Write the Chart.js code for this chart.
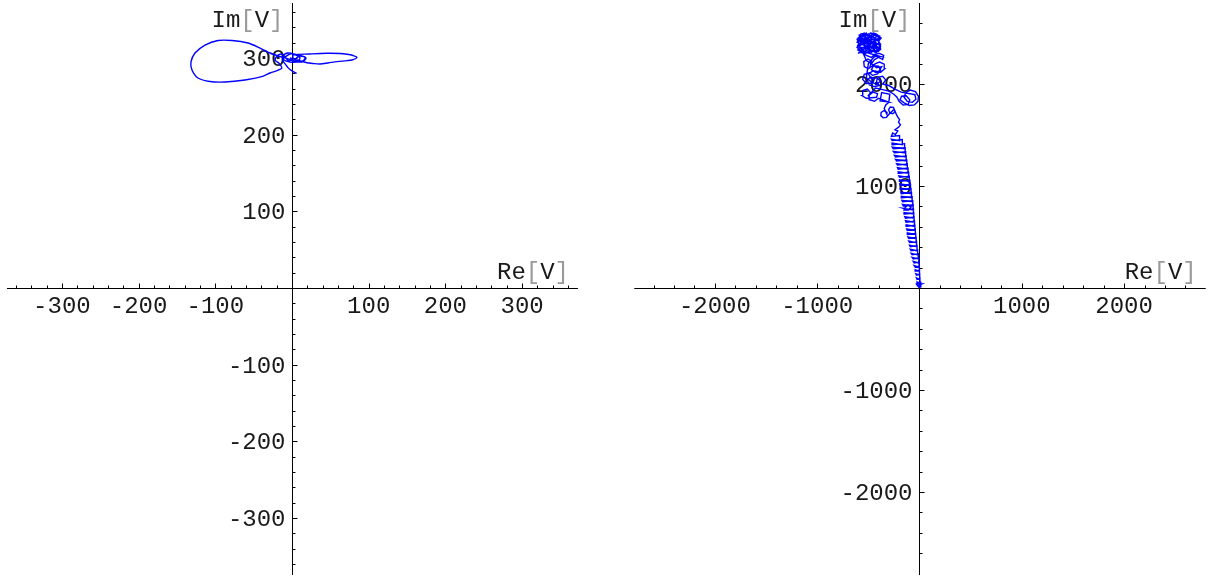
<!DOCTYPE html>
<html>
<head>
<meta charset="utf-8">
<script src="https://cdn.jsdelivr.net/npm/chart.js@4.4.1/dist/chart.umd.min.js"></script>
<style>
  html, body { margin: 0; padding: 0; background: #fff; }
  #wrap { position: relative; width: 1214px; height: 578px; overflow: hidden; }
  .pane { position: absolute; top: 0; width: 607px; height: 578px; }
  canvas { display: block; }
</style>
</head>
<body>
<div id="wrap">
  <div class="pane" style="left:0"><canvas id="left" width="607" height="578"></canvas></div>
  <div class="pane" style="left:607px"><canvas id="right" width="607" height="578"></canvas></div>
</div>
<script>
// Voltage phasor trajectory, small range (Re[V], Im[V])
const leftCurve = [
  [6.1, 279.9], [0, 283], [-5, 287], [-8, 291], [-11.7, 296], [-12, 301],
  [-9.1, 301.2], [-2.6, 305.1], [5.2, 303.8], [10.4, 299.9], [6.5, 294.7], [-2.6, 294.7],
  [-10.4, 297.3], [-11.7, 302.5], [-5.2, 306.4], [7.8, 303.8], [16.9, 301.2], [14.3, 296.0],
  [3.9, 297.3], [10.4, 302.5], [18.3, 299.9], [13.0, 294.7], [2.6, 296.0], [-6, 299],
  [-15.6, 301.8], [-28.7, 306.4], [-41.7, 312.9], [-57.4, 319.4], [-78.2, 322.7], [-96.5, 322.7],
  [-113.4, 316.8], [-126.5, 306.4], [-131.7, 294.7], [-130.4, 284.2], [-122.6, 273.8], [-106.9, 269.2],
  [-87.4, 268.6], [-61.3, 271.2], [-39.5, 275.5], [-28.7, 280.3], [-13.4, 286.4], [-17, 293],
  [-22, 297], [-19, 303], [-13, 305], [-8, 300], [-4, 296], [1.3, 299],
  [1.3, 303.8], [23.5, 305.1], [45.6, 306.0], [62.6, 305.7], [71.7, 304.7], [79.5, 303.1],
  [84.7, 300.8], [78.2, 297.3], [71.7, 296.4], [58.7, 295.1], [46.9, 293.4], [36.5, 292.1],
  [27.4, 292.7], [19.6, 293.7], [6.5, 297.3], [-2.6, 299.9]
];

// Voltage phasor trajectory, large range (Re[V], Im[V])
const rightCurve = [
  // rising band of small loops from the origin
  [0, 0], [-30, 38], [25, 40], [-15, 20], [10, 10], [12, 55], [-18, 45],
  [-24, 60], [4, 45], [4, 95], [-24, 85],
  [-30, 100], [2, 85], [2, 135], [-30, 125],
  [-36, 140], [0, 125], [0, 175], [-36, 165],
  [-42, 180], [-2, 165], [-2, 215], [-42, 205],
  [-52, 220], [-4, 205], [-4, 255], [-52, 245],
  [-61, 260], [-7, 245], [-7, 295], [-61, 285],
  [-72, 300], [-12, 285], [-12, 335], [-72, 325],
  [-82, 340], [-18, 325], [-18, 375], [-82, 365],
  [-90, 380], [-24, 365], [-24, 415], [-90, 405],
  [-97, 420], [-29, 405], [-29, 455], [-97, 445],
  [-105, 460], [-33, 445], [-33, 495], [-105, 485],
  [-113, 500], [-37, 485], [-37, 535], [-113, 525],
  [-119, 540], [-41, 525], [-41, 575], [-119, 565],
  [-125, 580], [-45, 565], [-45, 615], [-125, 605],
  [-131, 620], [-49, 605], [-49, 655], [-131, 645],
  [-137, 660], [-53, 645], [-53, 695], [-137, 685],
  [-144, 700], [-56, 685], [-56, 735], [-144, 725],
  [-151, 740], [-59, 725], [-59, 775], [-151, 765],
  [-140, 790], [-112, 815], [-84, 790], [-112, 762],
  [-158, 780], [-62, 765], [-62, 815], [-158, 805],
  [-166, 820], [-66, 805], [-66, 855], [-166, 845],
  [-172, 860], [-72, 845], [-72, 895], [-172, 885],
  [-178, 900], [-78, 885], [-78, 935], [-178, 925],
  [-183, 940], [-83, 925], [-83, 975], [-183, 965],
  [-188, 980], [-88, 965], [-88, 1015], [-188, 1005],
  [-192, 1020], [-94, 1005], [-94, 1055], [-192, 1045],
  [-196, 1060], [-100, 1045], [-100, 1095], [-196, 1085],
  [-202, 1100], [-106, 1085], [-106, 1135], [-202, 1125],
  [-208, 1140], [-112, 1125], [-112, 1175], [-208, 1165],
  [-215, 1180], [-119, 1165], [-119, 1215], [-215, 1205],
  [-224, 1220], [-124, 1205], [-124, 1255], [-224, 1245],
  [-234, 1260], [-130, 1245], [-130, 1295], [-234, 1285],
  [-245, 1300], [-135, 1285], [-135, 1335], [-245, 1325],
  [-256, 1340], [-140, 1325], [-140, 1375], [-256, 1365],
  [-266, 1380], [-146, 1365], [-146, 1415], [-266, 1405],
  [-268, 1420], [-168, 1405], [-168, 1455], [-268, 1445],
  [-275, 1460], [-195, 1445], [-195, 1495], [-275, 1485],
  [-262, 1520], [-236, 1505], [-212, 1540], [-240, 1550],
  [-200, 1580], [-186, 1600], [-205, 1625], [-195, 1650], [-212, 1675], [-225, 1700],
  // chain of loops
  [-240, 1735], [-255, 1770], [-285, 1775], [-302, 1748], [-290, 1716], [-262, 1708], [-240, 1725], [-250, 1750],
  [-300, 1700], [-325, 1672], [-355, 1668], [-378, 1690], [-375, 1722], [-350, 1738], [-322, 1725], [-318, 1700],
  [-345, 1760], [-330, 1795],
  [-300, 1820], [-290, 1900], [-370, 1915], [-385, 1835], [-310, 1825],
  [-400, 1860], [-440, 1830], [-485, 1845], [-492, 1890], [-455, 1920], [-410, 1905], [-420, 1870], [-470, 1865],
  [-520, 1860], [-560, 1885], [-555, 1935], [-510, 1950], [-478, 1915], [-505, 1880],
  [-430, 1960], [-360, 1945], [-300, 1930], [-250, 1900],
  [-220, 1870], [-200, 1830], [-160, 1795], [-110, 1800], [-95, 1845], [-130, 1885], [-175, 1880], [-190, 1845],
  [-150, 1815], [-100, 1790], [-50, 1795], [-15, 1830], [-10, 1880], [-40, 1925], [-90, 1940], [-135, 1915],
  [-150, 1870], [-120, 1830], [-70, 1820], [-35, 1850], [-45, 1895], [-95, 1905],
  [-180, 1920], [-240, 1950], [-300, 1985],
  // column of loops
  [-360, 2000], [-330, 2040], [-360, 2075], [-410, 2065], [-420, 2020], [-390, 1985], [-440, 1975], [-490, 1990],
  [-510, 2035], [-480, 2070], [-440, 2055], [-455, 2010], [-520, 2005], [-555, 2045], [-540, 2095], [-490, 2110],
  [-460, 2085], [-410, 2100], [-380, 2135], [-400, 2175], [-450, 2180], [-470, 2140], [-430, 2115], [-380, 2115],
  [-340, 2150], [-345, 2195], [-390, 2215], [-430, 2200], [-500, 2150], [-540, 2170], [-545, 2220], [-505, 2245],
  [-470, 2225], [-480, 2185], [-440, 2240], [-400, 2260], [-360, 2240], [-350, 2280], [-390, 2300], [-440, 2290],
  [-470, 2260], [-520, 2280], [-550, 2300],
  [-520, 2230], [-470, 2200], [-420, 2160], [-370, 2170], [-400, 2120], [-450, 2130], [-500, 2100], [-470, 2050],
  [-420, 2060], [-380, 2030], [-420, 1995], [-470, 2020], [-520, 2060], [-500, 2200], [-440, 2270], [-380, 2270],
  // dense knot at the top
  [-560, 2320], [-500, 2310], [-450, 2330], [-400, 2320], [-380, 2370], [-420, 2400], [-470, 2370], [-520, 2350],
  [-580, 2360], [-600, 2410], [-560, 2440], [-500, 2420], [-450, 2440], [-400, 2420], [-375, 2450], [-410, 2480],
  [-470, 2470], [-530, 2480], [-580, 2470], [-610, 2440], [-590, 2390], [-540, 2400], [-490, 2390], [-440, 2400],
  [-390, 2390], [-380, 2340], [-430, 2310], [-490, 2340], [-540, 2320], [-600, 2330], [-605, 2380], [-560, 2410],
  [-510, 2450], [-460, 2490], [-420, 2470], [-440, 2430], [-490, 2460], [-540, 2500], [-590, 2480], [-570, 2430],
  [-520, 2410], [-470, 2420], [-420, 2360], [-460, 2320], [-520, 2370], [-570, 2390], [-610, 2410], [-580, 2450],
  [-530, 2440], [-480, 2500], [-430, 2490], [-390, 2460], [-400, 2400], [-450, 2360], [-500, 2380], [-550, 2360],
  [-590, 2340], [-550, 2300], [-490, 2310], [-420, 2330], [-390, 2350], [-430, 2380], [-480, 2410], [-530, 2460],
  [-560, 2490], [-500, 2475], [-450, 2460], [-420, 2440], [-470, 2440], [-520, 2430], [-540, 2380], [-490, 2360],
  [-440, 2350], [-460, 2400],
  [-600, 2300], [-560, 2340], [-610, 2360], [-570, 2400], [-600, 2450], [-560, 2470], [-520, 2500], [-500, 2450],
  [-530, 2420], [-490, 2400], [-450, 2420], [-420, 2400], [-440, 2370], [-400, 2350], [-380, 2390], [-410, 2430],
  [-390, 2470], [-440, 2480], [-470, 2450], [-500, 2490], [-530, 2470], [-560, 2460], [-590, 2430], [-560, 2390],
  [-590, 2370], [-560, 2330], [-520, 2320], [-530, 2360], [-500, 2340], [-470, 2310], [-440, 2340], [-470, 2350],
  [-450, 2390], [-490, 2420], [-520, 2390], [-550, 2410], [-580, 2420], [-540, 2450], [-510, 2430], [-480, 2470],
  [-450, 2500], [-420, 2490], [-400, 2450], [-430, 2420], [-470, 2400], [-510, 2370], [-550, 2340], [-580, 2310],
  [-530, 2300], [-480, 2330], [-420, 2310], [-400, 2330], [-430, 2350], [-460, 2380]
];

// Labelled tick values for each plot
const leftTicks = [-300, -200, -100, 100, 200, 300];
const rightTicks = [-2000, -1000, 1000, 2000];

const FONT = '"Liberation Mono", "DejaVu Sans Mono", monospace';
const FS = 24;
const TEXT = '#1a1a1a';
const BRACKET = '#9a9a9a';

// Draws axes crossing at the origin, with minor ticks and grey-bracket titles
function crossAxes(cfg) {
  return {
    id: 'crossAxes',
    beforeDatasetsDraw(chart) {
      const { ctx } = chart;
      const xs = chart.scales.x, ys = chart.scales.y;
      const ox = Math.round(xs.getPixelForValue(0)) + 0.5;
      const oy = Math.round(ys.getPixelForValue(0)) + 0.5;
      ctx.save();
      ctx.strokeStyle = '#000';
      ctx.lineWidth = 1;
      ctx.beginPath();
      ctx.moveTo(xs.getPixelForValue(cfg.xLine[0]), oy);
      ctx.lineTo(xs.getPixelForValue(cfg.xLine[1]), oy);
      ctx.moveTo(ox, ys.getPixelForValue(cfg.yLine[0]));
      ctx.lineTo(ox, ys.getPixelForValue(cfg.yLine[1]));
      // x ticks point up, y ticks point right
      for (let v = -cfg.minorMax; v <= cfg.minorMax + 1e-9; v += cfg.minorStep) {
        if (Math.abs(v) < 1e-9) continue;
        const major = Math.abs(Math.round(v / cfg.majorStep) * cfg.majorStep - v) < 1e-6;
        const len = major ? 5 : 3;
        const px = Math.round(xs.getPixelForValue(v)) + 0.5;
        ctx.moveTo(px, oy);
        ctx.lineTo(px, oy - len);
        const py = Math.round(ys.getPixelForValue(v)) + 0.5;
        ctx.moveTo(ox, py);
        ctx.lineTo(ox + len, py);
      }
      ctx.stroke();

      ctx.fillStyle = TEXT;
      ctx.font = FS + 'px ' + FONT;
      ctx.textBaseline = 'alphabetic';
      ctx.textAlign = 'center';
      cfg.ticks.forEach(v => {
        ctx.fillText(String(v), xs.getPixelForValue(v), oy + 24);
      });
      ctx.textAlign = 'right';
      cfg.ticks.forEach(v => {
        ctx.fillText(String(v), ox - 7, ys.getPixelForValue(v) + 8);
      });

      const drawTitle = (parts, right, base) => {
        ctx.textAlign = 'left';
        const total = parts.reduce((s, p) => s + ctx.measureText(p[0]).width, 0);
        let x = right - total;
        parts.forEach(p => {
          ctx.fillStyle = p[1];
          ctx.fillText(p[0], x, base);
          x += ctx.measureText(p[0]).width;
        });
      };
      drawTitle([['Re', TEXT], ['[', BRACKET], ['V', TEXT], [']', BRACKET]],
        xs.getPixelForValue(cfg.xLine[1]) - 9, oy - 10);
      drawTitle([['Im', TEXT], ['[', BRACKET], ['V', TEXT], [']', BRACKET]],
        ox - 9, 27);
      ctx.restore();
    }
  };
}

function makeChart(id, curve, range, axisCfg) {
  return new Chart(document.getElementById(id), {
    type: 'scatter',
    data: {
      datasets: [{
        data: curve.map(p => ({ x: p[0], y: p[1] })),
        showLine: true,
        borderColor: '#0000ff',
        borderWidth: 1.4,
        pointRadius: 0,
        tension: axisCfg.tension,
        fill: false
      }]
    },
    options: {
      responsive: false,
      animation: false,
      layout: { padding: 0 },
      plugins: { legend: { display: false }, tooltip: { enabled: false } },
      scales: {
        x: { type: 'linear', display: false, bounds: 'data', min: range.x[0], max: range.x[1] },
        y: { type: 'linear', display: false, bounds: 'data', min: range.y[0], max: range.y[1] }
      }
    },
    plugins: [crossAxes(axisCfg)]
  });
}

makeChart('left', leftCurve,
  { x: [-380.7, 410.7], y: [-378.1, 375.5] },
  { ticks: leftTicks, majorStep: 100, minorStep: 20, minorMax: 360,
    xLine: [-371.6, 372.9], yLine: [-374.2, 371.6], tension: 0.3 });

makeChart('right', rightCurve,
  { x: [-3054.7, 2878.8], y: [-2843.1, 2823.5] },
  { ticks: rightTicks, majorStep: 1000, minorStep: 200, minorMax: 2600,
    xLine: [-2788, 2798], yLine: [-2814, 2794], tension: 0 });
</script>
</body>
</html>
